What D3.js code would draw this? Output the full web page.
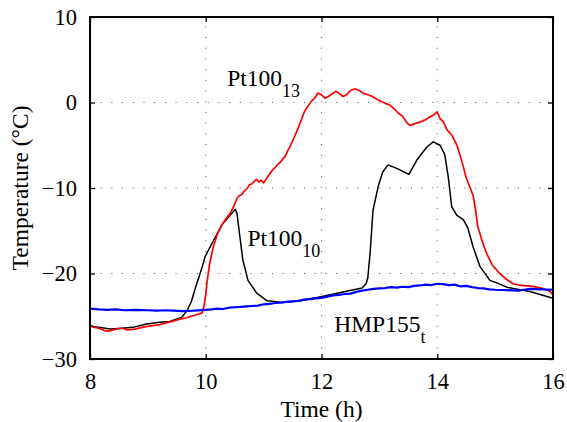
<!DOCTYPE html>
<html>
<head>
<meta charset="utf-8">
<script src="https://cdn.jsdelivr.net/npm/d3@7"></script>
<style>
  html, body { margin: 0; padding: 0; background: #fff; }
  svg text { font-family: "Liberation Serif", "Times New Roman", serif; fill: #000; }
</style>
</head>
<body>
<svg id="chart" width="567" height="422"></svg>
<script>
// ---- data ----
const xTicks = [8, 10, 12, 14, 16];
const yTicks = [-30, -20, -10, 0, 10];
const xTickLabels = ["8", "10", "12", "14", "16"];
const yTickLabels = ["\u221230", "\u221220", "\u221210", "0", "10"];

const blueTime = [8.0, 8.15, 8.3, 8.45, 8.6, 8.8, 9.0, 9.15, 9.3, 9.45, 9.6, 9.8, 10.0, 10.1, 10.2, 10.3, 10.4, 10.5, 10.6, 10.7, 10.8, 10.9, 11.0, 11.1, 11.2, 11.3, 11.4, 11.5, 11.6, 11.7, 11.8, 11.9, 12.0, 12.1, 12.2, 12.3, 12.4, 12.5, 12.6, 12.7, 12.8, 12.9, 13.0, 13.1, 13.2, 13.3, 13.4, 13.5, 13.6, 13.7, 13.8, 13.9, 14.0, 14.1, 14.2, 14.3, 14.4, 14.5, 14.6, 14.7, 14.8, 14.9, 15.0, 15.2, 15.4, 15.5, 15.6, 15.8, 16.0];
const blueTemp = [-24.1, -24.2, -24.25, -24.2, -24.3, -24.25, -24.3, -24.35, -24.3, -24.35, -24.4, -24.35, -24.25, -24.2, -24.1, -24.15, -24.0, -23.95, -23.9, -23.85, -23.8, -23.75, -23.6, -23.55, -23.45, -23.4, -23.3, -23.25, -23.2, -23.05, -23.0, -22.9, -22.85, -22.7, -22.55, -22.5, -22.4, -22.35, -22.15, -22.0, -21.9, -21.8, -21.75, -21.7, -21.6, -21.65, -21.55, -21.6, -21.45, -21.4, -21.3, -21.35, -21.2, -21.25, -21.35, -21.3, -21.5, -21.45, -21.6, -21.7, -21.75, -21.85, -21.9, -21.95, -22.0, -21.9, -21.8, -21.85, -21.9];

const redTime = [8.0, 8.15, 8.26, 8.35, 8.45, 8.55, 8.65, 8.78, 8.9, 9.07, 9.2, 9.3, 9.42, 9.52, 9.65, 9.75, 9.85, 9.94, 9.97, 10.0, 10.02, 10.07, 10.13, 10.2, 10.28, 10.35, 10.42, 10.48, 10.54, 10.58, 10.63, 10.67, 10.71, 10.76, 10.8, 10.84, 10.88, 10.92, 10.96, 11.0, 11.04, 11.08, 11.14, 11.2, 11.25, 11.3, 11.37, 11.42, 11.46, 11.5, 11.54, 11.58, 11.63, 11.67, 11.71, 11.76, 11.82, 11.88, 11.94, 12.0, 12.06, 12.12, 12.2, 12.25, 12.3, 12.37, 12.43, 12.5, 12.58, 12.65, 12.72, 12.8, 12.88, 12.95, 13.01, 13.1, 13.18, 13.25, 13.32, 13.4, 13.48, 13.53, 13.6, 13.7, 13.8, 13.87, 13.95, 14.0, 14.05, 14.1, 14.17, 14.25, 14.34, 14.4, 14.45, 14.5, 14.57, 14.62, 14.66, 14.7, 14.78, 14.85, 14.95, 15.08, 15.2, 15.31, 15.45, 15.65, 15.8, 15.95, 16.0];
const redTemp = [-26.2, -26.4, -26.7, -26.7, -26.5, -26.4, -26.6, -26.5, -26.3, -26.1, -26.0, -25.8, -25.6, -25.4, -25.2, -25.0, -24.8, -24.6, -23.8, -22.5, -21.1, -18.8, -16.9, -15.4, -14.3, -13.6, -13.0, -12.2, -11.2, -10.9, -10.7, -10.3, -10.1, -9.6, -9.5, -9.2, -9.0, -9.3, -9.1, -9.4, -9.0, -8.6, -8.0, -7.6, -7.2, -6.9, -6.3, -5.6, -5.1, -4.5, -3.9, -3.3, -2.4, -1.7, -1.0, -0.5, 0.1, 0.5, 1.1, 0.9, 0.5, 0.7, 1.1, 1.3, 1.1, 0.7, 0.9, 1.4, 1.6, 1.4, 1.1, 0.9, 0.7, 0.4, 0.2, -0.1, -0.3, -0.7, -1.2, -1.6, -2.4, -2.7, -2.5, -2.3, -2.0, -1.7, -1.4, -1.1, -1.9, -2.2, -3.2, -3.8, -5.0, -6.3, -7.5, -8.8, -10.0, -10.9, -12.5, -14.5, -16.3, -17.6, -19.0, -20.0, -20.7, -21.2, -21.4, -21.5, -21.7, -22.1, -22.5];

const blackTime = [8.0, 8.15, 8.35, 8.55, 8.74, 8.98, 9.2, 9.38, 9.59, 9.68, 9.75, 9.83, 9.94, 9.99, 10.13, 10.28, 10.42, 10.51, 10.54, 10.59, 10.64, 10.73, 10.88, 11.06, 11.34, 11.63, 12.01, 12.41, 12.7, 12.77, 12.8, 12.84, 12.89, 12.98, 13.06, 13.15, 13.3, 13.51, 13.65, 13.82, 13.93, 14.05, 14.13, 14.19, 14.25, 14.34, 14.45, 14.53, 14.62, 14.74, 14.91, 15.03, 15.2, 15.6, 16.0];
const blackTemp = [-26.1, -26.3, -26.5, -26.4, -26.3, -25.9, -25.7, -25.6, -25.1, -24.3, -23.3, -21.5, -19.2, -18.0, -16.2, -14.3, -13.2, -12.5, -13.0, -15.7, -18.4, -20.8, -22.3, -23.2, -23.4, -23.2, -22.7, -22.1, -21.7, -21.2, -20.5, -17.6, -12.6, -9.8, -8.1, -7.3, -7.7, -8.4, -6.7, -5.2, -4.6, -5.0, -6.1, -8.7, -12.2, -13.2, -13.7, -14.7, -16.9, -19.2, -20.8, -21.1, -21.6, -22.1, -22.9];

// annotation anchors (data coordinates)
const labels = [
  { main: "Pt100", sub: "13", t: 10.37, v: 1.93 },
  { main: "Pt100", sub: "10", t: 10.72, v: -16.8 },
  { main: "HMP155", sub: "t", t: 12.22, v: -26.8 }
];

// ---- layout ----
const margin = { left: 90, right: 14, top: 17, bottom: 63 };
const W = 567, H = 422;
const svg = d3.select("#chart");
const x = d3.scaleLinear().domain([8, 16]).range([margin.left, W - margin.right]);
const y = d3.scaleLinear().domain([-30, 10]).range([H - margin.bottom, margin.top]);
const x0 = x.range()[0], x1 = x.range()[1], y0 = y.range()[0], y1 = y.range()[1];

// grid (dotted)
const grid = svg.append("g");
xTicks.slice(1, -1).forEach(t => {
  grid.append("line").attr("x1", x(t)).attr("x2", x(t)).attr("y1", y0).attr("y2", y1)
    .attr("stroke", "#555").attr("stroke-width", 1).attr("stroke-dasharray", "1,9.7");
});
yTicks.slice(1, -1).forEach(v => {
  grid.append("line").attr("x1", x0).attr("x2", x1).attr("y1", y(v)).attr("y2", y(v))
    .attr("stroke", "#555").attr("stroke-width", 1).attr("stroke-dasharray", "1,9.7");
});

// series
const line = d3.line().x(d => x(d[0])).y(d => y(d[1]));
function series(times, temps, color, w) {
  svg.append("path").datum(times.map((t, i) => [t, temps[i]]))
    .attr("d", line).attr("fill", "none").attr("stroke", color)
    .attr("stroke-width", w).attr("stroke-linejoin", "round");
}
series(blackTime, blackTemp, "#000000", 1.5);
series(redTime, redTemp, "#ff0000", 1.7);
series(blueTime, blueTemp, "#0000ff", 2.2);

// axes with inward ticks
const fmtX = (d, i) => xTickLabels[i];
const fmtY = (d, i) => yTickLabels[i];
const axB = svg.append("g").attr("transform", `translate(0,${y0})`)
  .call(d3.axisBottom(x).tickValues(xTicks).tickFormat(fmtX).tickSizeInner(-5).tickSizeOuter(0).tickPadding(14));
const axL = svg.append("g").attr("transform", `translate(${x0},0)`)
  .call(d3.axisLeft(y).tickValues(yTicks).tickFormat(fmtY).tickSizeInner(-5).tickSizeOuter(0).tickPadding(13));
const axT = svg.append("g").attr("transform", `translate(0,${y1})`)
  .call(d3.axisTop(x).tickValues(xTicks).tickFormat("").tickSizeInner(-5).tickSizeOuter(0));
const axR = svg.append("g").attr("transform", `translate(${x1},0)`)
  .call(d3.axisRight(y).tickValues(yTicks).tickFormat("").tickSizeInner(-5).tickSizeOuter(0));
[axB, axL, axT, axR].forEach(a => {
  a.select(".domain").remove();
  a.selectAll(".tick line").attr("stroke", "#000").attr("stroke-width", 1.3);
  a.selectAll("text").style("font-family", "'Liberation Serif', serif").style("font-size", "22.5px").attr("fill", "#000");
});
axB.selectAll("text").attr("dy", "0.71em");

// box
svg.append("rect").attr("x", x0).attr("y", y1).attr("width", x1 - x0).attr("height", y0 - y1)
  .attr("fill", "none").attr("stroke", "#000").attr("stroke-width", 2);

// axis titles
svg.append("text").attr("x", (x0 + x1) / 2).attr("y", 417).attr("text-anchor", "middle")
  .style("font-size", "23.5px").text("Time (h)");
svg.append("text").attr("transform", `translate(28,${(y0 + y1) / 2}) rotate(-90)`)
  .attr("text-anchor", "middle").style("font-size", "23.5px").text("Temperature (\u00B0C)");

// series labels
labels.forEach(l => {
  const t = svg.append("text").attr("x", x(l.t)).attr("y", y(l.v)).style("font-size", "23.5px");
  t.append("tspan").text(l.main);
  t.append("tspan").attr("dy", 11).style("font-size", "18px").text(l.sub);
});
</script>
</body>
</html>
